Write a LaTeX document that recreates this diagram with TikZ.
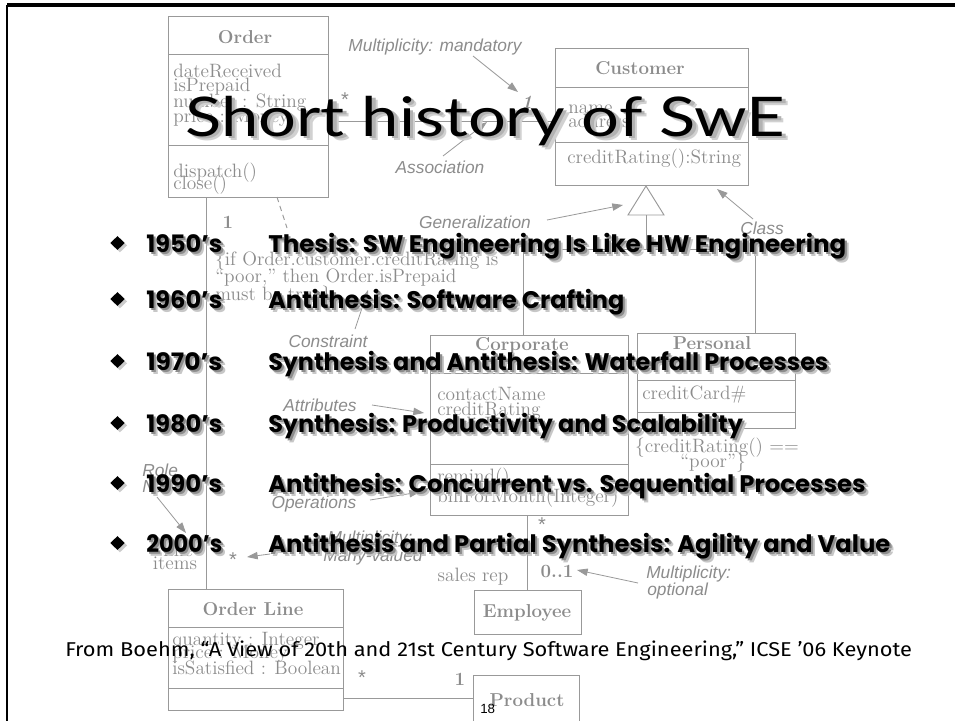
\documentclass[tikz,border=0pt]{standalone}
\usepackage{fontspec}
\usepackage{graphicx}
\usetikzlibrary{arrows.meta,shapes.geometric,shadows}
\newfontfamily\labelfont{Liberation Sans}
\newfontfamily\bulfont{Poppins}
\newfontfamily\titlefont{Lato}
\newfontfamily\footfont{Fira Sans}
\definecolor{umlline}{gray}{0.6}
\definecolor{umltext}{gray}{0.55}
\newcommand\shd[1]{\rlap{\hspace{3pt}\raisebox{-3pt}{\color{black!22}#1}}\rlap{\hspace{1.6pt}\raisebox{-1.6pt}{\color{black!45}#1}}#1}
\newcommand\shdT[1]{\rlap{\hspace{3.5pt}\raisebox{-3.5pt}{\color{black!18}#1}}\rlap{\hspace{2.2pt}\raisebox{-2.2pt}{\color{black!30}#1}}#1}
\newcommand\fitw[2]{\resizebox{#1}{\height}{#2}}
\tikzset{
  ubox/.style={draw=umlline, line width=0.7pt},
  uline/.style={draw=umlline, line width=0.7pt},
  udash/.style={draw=umlline, line width=0.7pt, dash pattern=on 4pt off 3pt},
  uarr/.style={draw=umlline, line width=0.6pt, -{Triangle[length=8pt,width=5.5pt]}},
  ut/.style={text=umltext, font=\fontsize{14.5}{15}\selectfont, inner sep=0, anchor=base west},
  uh/.style={text=umltext, font=\bfseries\fontsize{14}{15}\selectfont, inner sep=0},
  ul/.style={text=umltext, font=\labelfont\itshape\fontsize{13}{14}\selectfont, inner sep=0},
  ustar/.style={text=umltext, font=\labelfont\fontsize{15}{15}\selectfont, inner sep=0},
  year/.style={font=\bulfont\bfseries\fontsize{18}{20}\selectfont, inner sep=0, anchor=base west},
  desc/.style={font=\bulfont\bfseries\fontsize{18}{20}\selectfont, inner sep=0, anchor=base west},
  bdiam/.style={diamond, fill=black, inner sep=0, minimum width=11pt, minimum height=10.5pt,
     drop shadow={shadow xshift=1.8pt, shadow yshift=-1.8pt, opacity=0.4}},
}
\begin{document}
\begin{tikzpicture}[x=0.75pt,y=-0.75pt]
\path[use as bounding box, fill=white] (0,0) rectangle (957,721);

% ---------- background UML diagram ----------
% Order
\draw[ubox] (168,16) rectangle (328,197);
\draw[uline] (168,54) -- (328,54);
\draw[uline] (168,145) -- (328,145);
\node[uh] (orderT) at (245,37) {Order};
\node[ut] (o1) at (173,77) {dateReceived};
\node[ut] (o2) at (173,91) {isPrepaid};
\node[ut] (o3) at (173,107) {number : String};
\node[ut] (o4) at (173,122) {price : Money};
\node[ut] (o5) at (173,177) {dispatch()};
\node[ut] (o6) at (173,189) {close()};

% Customer
\draw[ubox] (555,48) rectangle (748,185);
\draw[uline] (555,87) -- (748,87);
\draw[uline] (555,142) -- (748,142);
\node[uh] (custT) at (640,68) {Customer};
\node[ut] (c1) at (568,113) {name};
\node[ut] (c2) at (568,127) {address};
\node[ut] (c3) at (567,163) {creditRating():String};

% association Order - Customer
\coordinate (asA) at (328,121);
\coordinate (asB) at (555,121);
\draw[uline] (asA) -- (asB);
\node[ustar] (star1) at (345,100) {*};
\node[uh] (one1) at (527,102) {\itshape 1};
\node[ul] (mmL) at (435,47) {Multiplicity: mandatory};
\coordinate (mmS) at (473,56);
\coordinate (mmE) at (518,92);
\draw[uarr] (mmS) -- (mmE);
\node[ul] (asL) at (440,167) {Association};
\coordinate (asS) at (443,156);
\coordinate (asE) at (487,122);
\draw[uarr] (asS) -- (asE);

% generalization
\coordinate (gApex) at (646,186);
\coordinate (gR) at (664,215);
\coordinate (gL) at (628,215);
\coordinate (gB) at (646,215);
\coordinate (gJ) at (646,249);
\coordinate (gCorp) at (523,249);
\coordinate (gPers) at (755,249);
\draw[uline, fill=white] (gApex) -- (gR) -- (gL) -- cycle;
\draw[uline] (gB) -- (gJ);
\coordinate (corpTop) at (523,335);
\coordinate (persTop) at (755,333);
\draw[uline] (corpTop) -- (gCorp) -- (gPers) -- (persTop);
\node[ul] (genL) at (475,222) {Generalization};
\coordinate (genS) at (547,220);
\coordinate (genE) at (623,205);
\draw[uarr] (genS) -- (genE);
\node[ul] (classL) at (762,228) {Class};
\coordinate (clS) at (753,219);
\coordinate (clE) at (717,189);
\draw[uarr] (clS) -- (clE);

% constraint note
\node[ut] (n1) at (215,265) {\{if Order.customer.creditRating is};
\node[ut] (n2) at (215,282) {“poor,” then Order.isPrepaid};
\node[ut] (n3) at (215,300) {must be true\}};
\coordinate (dsA) at (277,197);
\coordinate (dsB) at (287,228);
\draw[udash] (dsA) -- (dsB);
\node[uh] (oneO) at (228,222) {1};
\node[ul] (conL) at (328,341) {Constraint};
\coordinate (conS) at (355,329);
\coordinate (conE) at (368,290);
\draw[uarr] (conS) -- (conE);

% Order - Order Line
\coordinate (olA) at (206,197);
\coordinate (olB) at (206,589);
\draw[uline] (olA) -- (olB);

% Corporate
\draw[ubox] (430,335) rectangle (628,515);
\draw[uline] (430,373) -- (628,373);
\draw[uline] (430,464) -- (628,464);
\node[uh] (corpT) at (522,346) {Corporate};
\node[ut] (cp1) at (437,400) {contactName};
\node[ut] (cp2) at (437,415) {creditRating};
\node[ut] (cp3) at (437,430) {creditLimit};
\node[ut] (cp4) at (437,482) {remind()};
\node[ut] (cp5) at (437,502) {billForMonth(Integer)};

% Personal
\draw[ubox] (637,333) rectangle (795,428);
\draw[uline] (637,380) -- (795,380);
\draw[uline] (637,412) -- (795,412);
\node[uh] (persT) at (712,343) {Personal};
\node[ut] (ps1) at (642,399) {creditCard\#};
\node[ut, anchor=base] (ps2) at (717,452) {\{creditRating() ==};
\node[ut, anchor=base] (ps3) at (713,467) {“poor”\}};

% attributes / operations labels
\node[ul] (attL) at (320,405) {Attributes};
\coordinate (atS) at (372,405);
\coordinate (atE) at (424,413);
\draw[uarr] (atS) -- (atE);
\node[ul] (opL) at (314,504) {Operations};
\coordinate (opS) at (370,500);
\coordinate (opE) at (420,492);
\draw[uarr] (opS) -- (opE);

% role name
\node[ul, anchor=west] (roleL1) at (142,470) {Role};
\node[ul, anchor=west] (roleL2) at (142,487) {Name};
\coordinate (roS) at (157,497);
\coordinate (roE) at (186,533);
\draw[uarr] (roS) -- (roE);
\node[ut, anchor=base] (li1) at (178,556) {line};
\node[ut, anchor=base] (li2) at (175,569) {items};
\node[ustar] (star2) at (233,560) {*};
\node[ul] (mvL0) at (370,539) {Multiplicity:};
\node[ul] (mvL) at (373,557) {Many-valued};
\coordinate (mvS) at (270,554);
\coordinate (mvE) at (247,557);
\draw[uarr] (mvS) -- (mvE);

% Corporate - Employee
\coordinate (ceA) at (527,515);
\coordinate (ceB) at (527,590);
\draw[uline] (ceA) -- (ceB);
\node[ustar] (star3) at (542,525) {*};
\node[ut, anchor=base] (srL) at (473,581) {sales rep};
\node[uh] (zo) at (557,571) {0..1};
\node[ul, anchor=west] (moL1) at (646,574) {Multiplicity:};
\node[ul, anchor=west] (moL2) at (647,591) {optional};
\coordinate (moS) at (638,583);
\coordinate (moE) at (577,570);
\draw[uarr] (moS) -- (moE);

% Employee
\draw[ubox] (474,590) rectangle (581,634);
\node[uh] (empT) at (527,613) {Employee};

% Order Line
\draw[ubox] (168,589) rectangle (343,710);
\draw[uline] (168,627) -- (343,627);
\draw[uline] (168,688) -- (343,688);
\node[uh] (olT) at (253,609) {Order Line};
\node[ut] (ol1) at (172,645) {quantity : Integer};
\node[ut] (ol2) at (172,658) {price : Money};
\node[ut] (ol3) at (172,674) {isSatisfied : Boolean};
\coordinate (opA) at (343,698);
\coordinate (opB) at (473,698);
\draw[uline] (opA) -- (opB);
\node[ustar] (star4) at (362,678) {*};
\node[uh] (one3) at (460,679) {1};

% Product
\draw[ubox] (473,723) -- (473,675) -- (579,675) -- (579,723);
\node[uh] (prodT) at (527,700) {Product};

% ---------- slide frame ----------
\coordinate (bTL) at (7,5);
\coordinate (bTR) at (955,5);
\coordinate (bBL) at (7,723);
\draw[line width=3pt] (bTL) -- (bTR);
\draw[line width=1.5pt] (bTL) -- (bBL);

% ---------- title ----------
\node[anchor=base west, inner sep=0, font=\titlefont\fontsize{41}{41}\selectfont] (title) at (185,136)
  {\fitw{450pt}{\shdT{Short history of SwE}}};

% ---------- bullets ----------
\node[bdiam] (b1) at (117.5,243) {};
\node[bdiam] (b2) at (117.5,299) {};
\node[bdiam] (b3) at (117.5,361) {};
\node[bdiam] (b4) at (117.5,423) {};
\node[bdiam] (b5) at (117.5,483) {};
\node[bdiam] (b6) at (117.5,543) {};

\node[year] (y1) at (146,252) {\fitw{57pt}{\shd{1950’s}}};
\node[year] (y2) at (146,308) {\fitw{57pt}{\shd{1960’s}}};
\node[year] (y3) at (146,370) {\fitw{57pt}{\shd{1970’s}}};
\node[year] (y4) at (146,432) {\fitw{57pt}{\shd{1980’s}}};
\node[year] (y5) at (146,492) {\fitw{57pt}{\shd{1990’s}}};
\node[year] (y6) at (146,552) {\fitw{57pt}{\shd{2000’s}}};

\node[desc] (d1) at (268,252) {\fitw{433.5pt}{\shd{Thesis: SW Engineering Is Like HW Engineering}}};
\node[desc] (d2) at (268,308) {\fitw{267pt}{\shd{Antithesis: Software Crafting}}};
\node[desc] (d3) at (268,370) {\fitw{420pt}{\shd{Synthesis and Antithesis: Waterfall Processes}}};
\node[desc] (d4) at (268,432) {\fitw{356pt}{\shd{Synthesis: Productivity and Scalability}}};
\node[desc] (d5) at (268,492) {\fitw{448pt}{\shd{Antithesis: Concurrent vs. Sequential Processes}}};
\node[desc] (d6) at (268,552) {\fitw{466.5pt}{\shd{Antithesis and Partial Synthesis: Agility and Value}}};

% ---------- footer ----------
\node[anchor=base west, inner sep=0, font=\footfont\fontsize{15}{15}\selectfont] (foot) at (65,656)
  {\fitw{635pt}{From Boehm, “A View of 20th and 21st Century Software Engineering,” ICSE ’06 Keynote}};
\node[anchor=base west, inner sep=0, font=\labelfont\fontsize{10}{10}\selectfont] (pg) at (480,713) {18};
\end{tikzpicture}
\end{document}
